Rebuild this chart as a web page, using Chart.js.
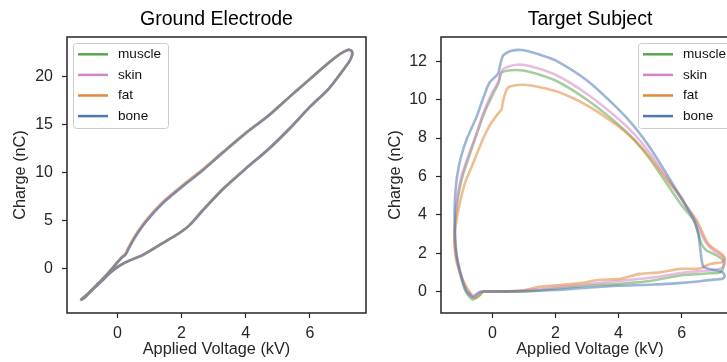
<!DOCTYPE html>
<html>
<head>
<meta charset="utf-8">
<script src="https://cdn.jsdelivr.net/npm/chart.js@4.4.1/dist/chart.umd.min.js"></script>
<style>
  html, body { margin: 0; padding: 0; background: #fff; overflow: hidden; }
  #wrap { position: relative; width: 727px; height: 362px; overflow: hidden; }
  canvas { position: absolute; top: 0; }
  #ground { left: 0; }
  #target { left: 380px; }
</style>
</head>
<body>
<div id="wrap">
  <canvas id="ground" width="380" height="362"></canvas>
  <canvas id="target" width="372" height="362"></canvas>
</div>
<script>
// Tissue names and colours (legend order).
const tissues = ["muscle", "skin", "fat", "bone"];
const tissueColors = ["#5AA64F", "#D584C8", "#E0893A", "#4C78B4"];

// Ground electrode: the four loops sit on top of each other.
const groundVoltage = [-1.15, -0.9, -0.6, -0.35, -0.15, 0.0, 0.15, 0.25, 0.35, 0.55, 0.9, 1.4, 2.0, 2.65, 3.3, 4.0, 4.7, 5.4, 6.0, 6.55, 6.95, 7.18, 7.3, 7.32, 7.23, 6.95, 6.55, 6.0, 5.4, 4.7, 4.0, 3.3, 2.65, 2.25, 1.9, 1.4, 0.8, 0.25, -0.15, -0.4, -0.7, -1.0, -1.15];
const groundCharge = [-3.35, -2.6, -1.6, -0.75, 0.0, 0.6, 1.15, 1.4, 2.05, 3.25, 4.9, 6.75, 8.45, 10.2, 12.1, 14.1, 15.9, 18.0, 19.75, 21.35, 22.4, 22.8, 22.7, 22.3, 21.6, 20.3, 18.6, 16.85, 14.7, 12.4, 10.4, 8.3, 6.0, 4.5, 3.6, 2.6, 1.4, 0.6, -0.25, -1.05, -2.0, -3.0, -3.35];
const groundChargeFat = [-3.35, -2.6, -1.6, -0.75, 0.0, 0.62, 1.2, 1.5, 2.2, 3.4, 5.05, 6.9, 8.6, 10.3, 12.2, 14.15, 15.95, 18.0, 19.75, 21.35, 22.4, 22.8, 22.7, 22.3, 21.6, 20.3, 18.6, 16.85, 14.7, 12.4, 10.4, 8.3, 6.0, 4.5, 3.6, 2.6, 1.4, 0.6, -0.25, -1.05, -2.0, -3.0, -3.35];

// Target subject loops, one per tissue.
const muscleVoltage = [-0.3, 0.0, 1.0, 2.0, 3.0, 4.0, 5.0, 6.0, 6.5, 6.9, 7.22, 7.32, 7.32, 7.11, 6.79, 6.63, 6.5, 6.35, 6.0, 5.5, 5.0, 4.5, 4.0, 3.0, 2.0, 1.2, 0.76, 0.29, 0.2, 0.02, -0.25, -0.46, -0.75, -0.95, -1.08, -1.16, -1.2, -1.16, -1.02, -0.85, -0.62, -0.45, -0.3];
const muscleCharge = [0.0, 0.0, 0.0, 0.15, 0.3, 0.4, 0.55, 0.85, 0.9, 0.95, 1.0, 1.27, 1.61, 1.88, 2.14, 2.48, 3.2, 3.8, 4.5, 5.7, 6.9, 7.9, 8.7, 10.0, 11.0, 11.45, 11.55, 11.42, 10.9, 10.3, 9.34, 8.39, 7.0, 6.0, 5.0, 4.0, 3.0, 2.0, 0.9, 0.0, -0.42, -0.25, 0.0];

const skinVoltage = [-0.3, 0.0, 1.0, 2.0, 3.0, 4.0, 5.0, 6.0, 6.5, 7.0, 7.3, 7.38, 7.28, 7.0, 6.75, 6.55, 6.35, 6.0, 5.5, 5.0, 4.5, 4.0, 3.0, 2.0, 1.2, 0.76, 0.34, 0.23, 0.18, -0.03, -0.3, -0.51, -0.78, -0.98, -1.1, -1.17, -1.2, -1.15, -1.0, -0.82, -0.62, -0.42, -0.3];
const skinCharge = [0.0, 0.0, 0.05, 0.22, 0.38, 0.55, 0.72, 0.97, 1.05, 1.12, 1.25, 1.55, 1.85, 2.15, 2.6, 3.3, 4.0, 4.8, 6.0, 7.2, 8.2, 9.0, 10.3, 11.3, 11.75, 11.82, 11.6, 11.15, 10.9, 10.3, 9.25, 8.2, 7.0, 6.0, 5.0, 4.0, 3.0, 2.0, 0.9, 0.1, -0.2, -0.05, 0.0];

const fatVoltage = [-0.3, 0.0, 0.44, 0.97, 1.5, 2.0, 2.56, 3.0, 3.41, 4.04, 4.68, 5.31, 5.95, 6.58, 6.9, 7.27, 7.37, 7.27, 6.85, 6.48, 6.2, 6.0, 5.5, 5.0, 4.5, 4.0, 3.0, 2.0, 1.0, 0.5, 0.34, 0.29, 0.13, -0.09, -0.3, -0.62, -0.88, -1.04, -1.14, -1.2, -1.2, -1.12, -0.93, -0.72, -0.56, -0.4, -0.3];
const fatCharge = [0.0, 0.0, 0.0, 0.05, 0.26, 0.32, 0.4, 0.5, 0.61, 0.66, 0.92, 1.0, 1.18, 1.2, 1.44, 1.53, 1.7, 1.96, 2.48, 3.7, 4.3, 4.9, 5.9, 7.0, 7.9, 8.6, 9.7, 10.45, 10.78, 10.64, 9.95, 9.5, 9.17, 8.65, 7.95, 6.65, 5.6, 4.56, 3.7, 3.0, 2.3, 1.44, 0.57, -0.03, -0.35, -0.2, 0.0];

const boneVoltage = [-0.3, 0.0, 1.0, 2.0, 3.0, 4.0, 5.0, 6.0, 6.5, 7.0, 7.3, 7.37, 7.3, 6.95, 6.69, 6.6, 6.53, 6.4, 6.05, 5.5, 5.0, 4.5, 4.0, 3.0, 2.0, 1.5, 1.0, 0.6, 0.34, 0.23, 0.18, -0.09, -0.3, -0.51, -0.8, -1.0, -1.12, -1.18, -1.2, -1.14, -0.98, -0.83, -0.62, -0.4, -0.3];
const boneCharge = [0.0, 0.0, 0.02, 0.08, 0.2, 0.3, 0.35, 0.45, 0.52, 0.62, 0.66, 0.8, 1.0, 1.15, 1.3, 2.1, 3.0, 3.7, 4.7, 6.2, 7.5, 8.6, 9.5, 11.0, 12.05, 12.35, 12.58, 12.55, 12.3, 11.7, 11.35, 10.9, 10.04, 9.08, 8.0, 7.0, 6.0, 5.0, 4.0, 2.0, 0.75, 0.05, -0.3, -0.03, 0.0];

// Tick labels
const voltageTicks = [0, 2, 4, 6];
const groundChargeTicks = [0, 5, 10, 15, 20];
const targetChargeTicks = [0, 2, 4, 6, 8, 10, 12];

const FONT = "'Liberation Sans', Arial, sans-serif";
const INK = "#262626";
Chart.defaults.font.family = FONT;
Chart.defaults.color = INK;

const withAlpha = (hex, a) => {
  const n = parseInt(hex.slice(1), 16);
  return `rgba(${(n >> 16) & 255}, ${(n >> 8) & 255}, ${n & 255}, ${a})`;
};

const toPoints = (xs, ys) => xs.map((x, i) => ({ x, y: ys[i] }));

const loopDataset = (index, xs, ys) => ({
  label: tissues[index],
  data: toPoints(xs, ys),
  borderColor: withAlpha(tissueColors[index], 0.55),
  borderWidth: 2.6,
  pointRadius: 0,
  showLine: true,
  tension: 0.25,
  fill: false,
  // later tissues drawn on top, like the original figure
  order: tissues.length - index,
});

// Draws the box, the title and the legend.
const framePlugin = {
  id: "frame",
  afterDraw(chart, args, opts) {
    const { ctx, chartArea: a } = chart;
    ctx.save();
    ctx.strokeStyle = INK;
    ctx.lineWidth = 1.5;
    ctx.strokeRect(a.left, a.top, a.right - a.left, a.bottom - a.top);

    ctx.fillStyle = "#000";
    ctx.font = `19.5px ${FONT}`;
    ctx.textAlign = "center";
    ctx.textBaseline = "middle";
    ctx.fillText(opts.title, (a.left + a.right) / 2, 20);

    const boxW = 95;
    const boxH = 85;
    const bx = opts.legendSide === "left" ? a.left + 6 : a.right - 6 - boxW;
    const by = a.top + 6;
    ctx.beginPath();
    ctx.roundRect(bx + 0.5, by + 0.5, boxW, boxH, 3);
    ctx.fillStyle = "rgba(255,255,255,0.8)";
    ctx.fill();
    ctx.strokeStyle = "#cccccc";
    ctx.lineWidth = 1;
    ctx.stroke();

    ctx.font = `13.6px ${FONT}`;
    ctx.textAlign = "left";
    tissues.forEach((name, i) => {
      const y = by + 11.3 + i * 20.6;
      ctx.strokeStyle = tissueColors[i];
      ctx.lineWidth = 2.5;
      ctx.beginPath();
      ctx.moveTo(bx + 5, y);
      ctx.lineTo(bx + 35, y);
      ctx.stroke();
      ctx.fillStyle = "#111";
      ctx.fillText(name, bx + 45, y);
    });
    ctx.restore();
  },
};

const buildScales = (cfg) => ({
  x: {
    type: "linear",
    min: cfg.xMin,
    max: cfg.xMax,
    afterBuildTicks: (scale) => { scale.ticks = voltageTicks.map((value) => ({ value })); },
    afterFit: (scale) => { scale.height = 49; },
    grid: { drawOnChartArea: false, drawTicks: true, tickLength: 5, tickColor: INK, tickWidth: 1.2 },
    border: { display: false },
    ticks: { color: INK, font: { size: 16 }, padding: 6, autoSkip: false, maxRotation: 0, callback: (v) => String(v) },
    title: { display: true, text: "Applied Voltage (kV)", color: INK, font: { size: 16.3 }, padding: { top: 0, bottom: 3 } },
  },
  y: {
    type: "linear",
    min: cfg.yMin,
    max: cfg.yMax,
    afterBuildTicks: (scale) => { scale.ticks = cfg.yTicks.map((value) => ({ value })); },
    afterFit: (scale) => { scale.width = cfg.yWidth; },
    grid: { drawOnChartArea: false, drawTicks: true, tickLength: 5, tickColor: INK, tickWidth: 1.2 },
    border: { display: false },
    ticks: { color: INK, font: { size: 16 }, padding: 9, autoSkip: false, callback: (v) => String(v) },
    title: { display: true, text: "Charge (nC)", color: INK, font: { size: 16.3 }, padding: { top: cfg.yTitlePad, bottom: 0 } },
  },
});

const renderPanel = (canvas, datasets, cfg) => new Chart(canvas, {
  type: "scatter",
  data: { datasets },
  options: {
    responsive: false,
    animation: false,
    layout: { padding: { top: 37, right: cfg.padRight, bottom: 0, left: 0 } },
    scales: buildScales(cfg),
    plugins: {
      legend: { display: false },
      tooltip: { enabled: false },
      frame: { title: cfg.title, legendSide: cfg.legendSide },
    },
  },
  plugins: [framePlugin],
});

renderPanel(document.getElementById("ground"), [
  loopDataset(0, groundVoltage, groundCharge),
  loopDataset(1, groundVoltage, groundCharge),
  loopDataset(2, groundVoltage, groundChargeFat),
  loopDataset(3, groundVoltage, groundCharge),
], {
  title: "Ground Electrode", legendSide: "left",
  xMin: -1.57, xMax: 7.75, yMin: -4.68, yMax: 24.15,
  yTicks: groundChargeTicks, yWidth: 67, yTitlePad: 11, padRight: 14,
});

renderPanel(document.getElementById("target"), [
  loopDataset(0, muscleVoltage, muscleCharge),
  loopDataset(1, skinVoltage, skinCharge),
  loopDataset(2, fatVoltage, fatCharge),
  loopDataset(3, boneVoltage, boneCharge),
], {
  title: "Target Subject", legendSide: "right",
  xMin: -1.63, xMax: 7.82, yMin: -1.12, yMax: 13.27,
  yTicks: targetChargeTicks, yWidth: 61, yTitlePad: 6, padRight: 13,
});
</script>
</body>
</html>
